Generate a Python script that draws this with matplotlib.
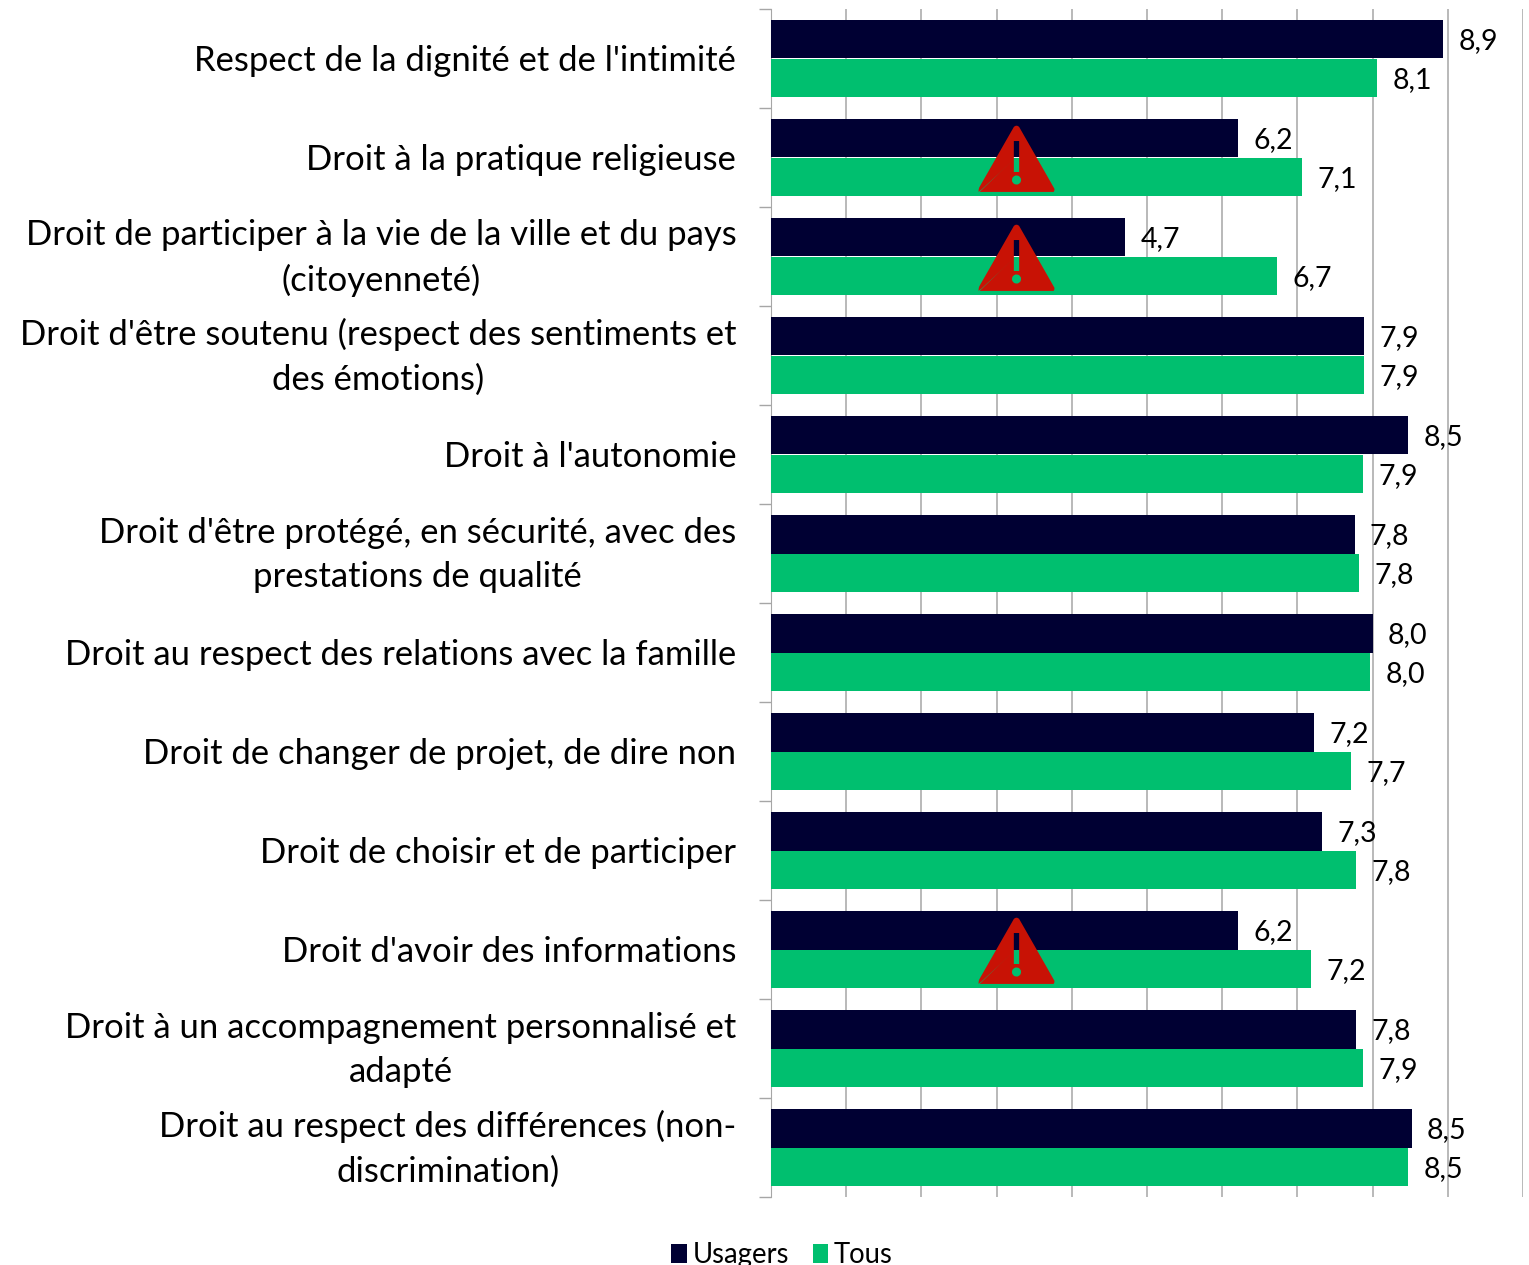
import matplotlib
matplotlib.use('Agg')
import matplotlib.pyplot as plt
import matplotlib.transforms as mtrans
import numpy as np
from matplotlib.path import Path

plt.rcParams['font.family'] = ['Lato', 'DejaVu Sans']

categories = [
    "Respect de la dignité et de l'intimité",
    "Droit à la pratique religieuse",
    "Droit de participer à la vie de la ville et du pays\n(citoyenneté)",
    "Droit d'être soutenu (respect des sentiments et\ndes émotions)",
    "Droit à l'autonomie",
    "Droit d'être protégé, en sécurité, avec des\nprestations de qualité",
    "Droit au respect des relations avec la famille",
    "Droit de changer de projet, de dire non",
    "Droit de choisir et de participer",
    "Droit d'avoir des informations",
    "Droit à un accompagnement personnalisé et\nadapté",
    "Droit au respect des différences (non-\ndiscrimination)",
]
usagers = [8.94, 6.21, 4.71, 7.89, 8.47, 7.76, 8.0, 7.22, 7.33, 6.21, 7.78, 8.52]
tous = [8.06, 7.06, 6.73, 7.89, 7.87, 7.82, 7.97, 7.71, 7.78, 7.18, 7.87, 8.47]
warnings = [1, 2, 9]
warning_x = 3.26

NAVY = '#000033'
GREEN = '#00BF6F'
RED = '#C81205'
GRID = '#A6A6A6'


def warning_marker():
    # triangle with a cut-out exclamation mark, holes wound the other way
    tri = [(-0.97, -0.88), (0.97, -0.88), (1.0, -0.88), (1.0, -0.8), (0.98, -0.76),
           (0.07, 0.83), (0, 0.9), (-0.07, 0.83), (-0.98, -0.76), (-1.0, -0.8),
           (-1.0, -0.88), (-0.97, -0.88), (-0.97, -0.88)]
    tri_codes = [Path.MOVETO, Path.LINETO, Path.CURVE3, Path.CURVE3, Path.CURVE3, Path.LINETO,
                 Path.CURVE3, Path.CURVE3, Path.LINETO, Path.CURVE3, Path.CURVE3, Path.CURVE3,
                 Path.CLOSEPOLY]
    bar = [(-0.07, -0.355), (-0.07, 0.46), (0.07, 0.46), (0.07, -0.355), (-0.07, -0.355)]
    bar_codes = [Path.MOVETO, Path.LINETO, Path.LINETO, Path.LINETO, Path.CLOSEPOLY]
    circle = Path.unit_circle()
    dot = circle.vertices[::-1] * 0.118 + [0, -0.566]
    dot_codes = circle.codes
    return Path(np.vstack([tri, bar, dot]), list(tri_codes) + bar_codes + list(dot_codes))


fig = plt.figure(figsize=(15.29, 12.65), dpi=100)
ax = fig.add_axes([771 / 1529, 1 - 1197 / 1265, (1523 - 771) / 1529, (1197 - 9) / 1265])

y = np.arange(len(categories)) + 0.5
bar_h = 0.391
ax.barh(y - bar_h / 2, usagers, height=bar_h, color=NAVY, label='Usagers', zorder=3)
ax.barh(y + bar_h / 2, tous, height=bar_h, color=GREEN, label='Tous', zorder=3)

for pos, val in zip(y - bar_h / 2, usagers):
    ax.annotate(f'{val:.1f}'.replace('.', ','), (val, pos), xytext=(11, -1.4), textcoords='offset points',
                va='center', ha='left', fontsize=20.5, color='black', zorder=5)
for pos, val in zip(y + bar_h / 2, tous):
    ax.annotate(f'{val:.1f}'.replace('.', ','), (val, pos), xytext=(11, -1.4), textcoords='offset points',
                va='center', ha='left', fontsize=20.5, color='black', zorder=5)

ax.scatter([warning_x] * len(warnings), y[warnings], marker=warning_marker(), s=54.7 ** 2,
           color=RED, linewidths=0, zorder=4)

ax.set_xlim(0, 10)
ax.set_ylim(len(categories), 0)
ax.set_xticks(np.arange(0, 11))
ax.set_xticklabels([])
ax.set_yticks(np.arange(len(categories) + 1))
ax.set_yticklabels([])
ax.set_yticks(y, minor=True)
ax.set_yticklabels(categories, minor=True, fontsize=24.9, linespacing=1.47, ma='center')
ax.tick_params(axis='y', which='major', length=8.6, width=1, color=GRID)
ax.tick_params(axis='y', which='minor', length=0, pad=25)
ax.tick_params(axis='x', length=0)
ax.grid(True, axis='x', color=GRID, linewidth=1.1, zorder=0)
for side in ['top', 'right', 'bottom']:
    ax.spines[side].set_visible(False)
ax.spines['left'].set_color(GRID)
ax.set_axisbelow(True)

# two-line labels sit higher in the original than matplotlib centres them
for label in ax.get_yticklabels(minor=True):
    dy = 5.5 if '\n' in label.get_text() else 0.6
    label.set_transform(label.get_transform() + mtrans.ScaledTranslation(0, dy / 72, fig.dpi_scale_trans))

fig.legend(loc='center', bbox_to_anchor=(782 / 1529, 1 - 1255 / 1265), ncol=2, frameon=False,
           fontsize=19.8, handlelength=0.58, handleheight=0.7, handletextpad=0.2, columnspacing=0.85,
           borderpad=0, borderaxespad=0)

fig.savefig('out.png', dpi=100)
